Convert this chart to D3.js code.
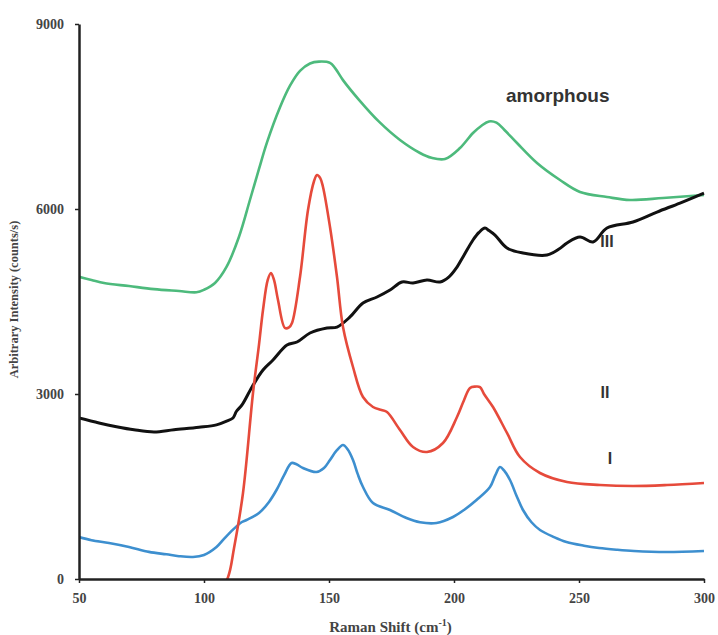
<!DOCTYPE html>
<html>
<head>
<meta charset="utf-8">
<script src="https://cdn.jsdelivr.net/npm/d3@7"></script>
<style>
  body { margin: 0; background: #fff; }
  .axis text { font: bold 14px "Liberation Serif", "DejaVu Serif", serif; fill: #444; }
  .axis path, .axis line { stroke: #222; }
</style>
</head>
<body>
<svg id="chart" width="718" height="635"></svg>
<script>
// raman shift (cm-1) and intensity (counts/s), one pair of arrays per trace
var shiftI = [50, 55, 62, 70, 78, 85, 90, 95.6, 100, 105, 108, 111.6, 115, 117, 122, 126, 129, 132, 135, 137, 139.6, 145, 148, 150.4, 153, 155.6, 157.5, 159.6, 161.5, 163.6, 167.6, 174.4, 181, 186.4, 193, 199.6, 204, 209, 214.4, 216.5, 218.4, 220, 222.4, 225, 227.6, 231, 234.4, 240, 245, 252, 258, 265, 272, 285, 300];
var countsI = [680, 630, 584, 520, 440, 400, 370, 357, 390, 519, 650, 800, 920, 957, 1070, 1250, 1443, 1680, 1881, 1860, 1800, 1735, 1800, 1930, 2080, 2173, 2100, 1930, 1700, 1492, 1232, 1119, 989, 920, 908, 1005, 1120, 1281, 1492, 1680, 1816, 1760, 1605, 1350, 1119, 920, 795, 680, 600, 540, 503, 475, 454, 438, 454];

var shiftII = [50, 54, 100, 106, 109.6, 112, 115.6, 119.6, 122, 123.6, 125.5, 126.8, 128, 129.6, 132.4, 134, 135.2, 138.4, 141.6, 144, 145.2, 146.5, 147.6, 150.4, 153.2, 155.6, 159.6, 163.6, 167.6, 171, 173.2, 178.4, 183.6, 189.2, 195.6, 201.2, 204, 206.4, 208.5, 210.4, 212, 215.6, 221.2, 226.4, 234.4, 245.2, 258.4, 271.6, 285.2, 300];
var countsII = [0, -400, -400, -200, 30, 500, 1395, 3016, 3800, 4362, 4850, 4962, 4850, 4524, 4070, 4080, 4151, 4897, 5984, 6450, 6551, 6500, 6357, 5708, 4897, 4086, 3438, 2951, 2789, 2740, 2708, 2416, 2141, 2059, 2205, 2627, 2900, 3097, 3120, 3113, 3000, 2789, 2368, 1978, 1719, 1573, 1524, 1508, 1524, 1557];

var shiftIII = [50, 58, 65, 72, 80, 88, 98, 105, 109, 111.6, 113, 115.2, 119.2, 123.6, 127.6, 133.2, 137.2, 142.4, 149.2, 153.2, 158.4, 163.6, 169.2, 174.4, 179.2, 183.6, 189.2, 194.4, 198, 201.2, 204, 207.6, 210, 212.4, 214, 216.4, 221.2, 227.6, 237.2, 242, 245.2, 250.4, 255.6, 261.2, 271.6, 281.2, 290.4, 300];
var countsIII = [2610, 2530, 2470, 2420, 2384, 2420, 2460, 2500, 2560, 2611, 2720, 2822, 3113, 3389, 3551, 3794, 3843, 3989, 4070, 4086, 4249, 4476, 4573, 4686, 4816, 4800, 4849, 4816, 4900, 5059, 5250, 5497, 5620, 5691, 5650, 5578, 5367, 5286, 5254, 5350, 5449, 5546, 5465, 5691, 5789, 5951, 6097, 6259];

var shiftAm = [50, 55, 60, 70, 80, 90, 97, 100, 104.4, 109, 114, 118.4, 122, 125.2, 130.4, 134.4, 138.4, 142.4, 146, 150.4, 152.5, 155.6, 162, 170, 178.4, 186.4, 191, 196.4, 202.4, 207.6, 211, 214, 217, 220, 225.2, 233.2, 242.4, 250.4, 261.2, 270.4, 283.6, 300];
var countsAm = [4900, 4850, 4800, 4750, 4700, 4670, 4650, 4690, 4800, 5060, 5550, 6150, 6650, 7080, 7650, 8000, 8240, 8360, 8390, 8370, 8280, 8090, 7770, 7416, 7119, 6908, 6830, 6811, 6989, 7232, 7350, 7420, 7400, 7290, 7070, 6746, 6470, 6276, 6195, 6146, 6178, 6227];

var xTicks = [50, 100, 150, 200, 250, 300];
var yTicks = [0, 3000, 6000, 9000];

var traces = [
    { id: "amorphous", xs: shiftAm, ys: countsAm, color: "#4dba7c" },
    { id: "III", xs: shiftIII, ys: countsIII, color: "#111111" },
    { id: "I", xs: shiftI, ys: countsI, color: "#3d8fcf" },
    { id: "II", xs: shiftII, ys: countsII, color: "#e64a3b" }
];

// labels put next to the traces, in data units
var labels = [
    { text: "amorphous", x: 220.8, y: 7850, size: 19 },
    { text: "III", x: 258.5, y: 5470, size: 16 },
    { text: "II", x: 258.6, y: 3030, size: 16 },
    { text: "I", x: 261.5, y: 1960, size: 16 }
];

var svg = d3.select("#chart"),
    margin = { top: 24, right: 14, bottom: 56, left: 79 },
    width = +svg.attr("width") - margin.left - margin.right,
    height = +svg.attr("height") - margin.top - margin.bottom;

var g = svg.append("g").attr("transform", "translate(" + margin.left + "," + margin.top + ")");

var xScale = d3.scaleLinear().domain([50, 300]).range([0, width]),
    yScale = d3.scaleLinear().domain([0, 9000]).range([height, 0]);

g.append("clipPath").attr("id", "plotclip")
    .append("rect").attr("x", 0).attr("y", -5).attr("width", width + 5).attr("height", height + 5);

var line = d3.line()
    .curve(d3.curveCatmullRom.alpha(0.5))
    .x(function(d) { return xScale(d[0]); })
    .y(function(d) { return yScale(d[1]); });

g.append("g").attr("clip-path", "url(#plotclip)")
    .selectAll("path")
    .data(traces)
    .enter().append("path")
    .attr("fill", "none")
    .attr("stroke", function(d) { return d.color; })
    .attr("stroke-width", function(d) { return d.id == "III" ? 3 : 2.6; })
    .attr("stroke-linejoin", "round")
    .attr("d", function(d) { return line(d.xs.map(function(x, i) { return [x, d.ys[i]]; })); });

// axes
g.append("g")
    .attr("class", "axis")
    .attr("transform", "translate(0," + height + ")")
    .call(d3.axisBottom(xScale).tickValues(xTicks).tickFormat(d3.format("d")).tickSizeInner(4).tickSizeOuter(0).tickPadding(10));

g.append("g")
    .attr("class", "axis")
    .call(d3.axisLeft(yScale).tickValues(yTicks).tickFormat(d3.format("d")).tickSizeInner(4).tickSizeOuter(0).tickPadding(11));

g.selectAll(".axis path.domain").attr("stroke-width", 2.5);
g.selectAll(".axis .tick line").attr("stroke-width", 1.5);

// axis titles
var xTitle = g.append("text")
    .attr("x", width / 2 - 1)
    .attr("y", height + 53)
    .attr("text-anchor", "middle")
    .style("font", "bold 15px 'Liberation Serif', serif")
    .attr("fill", "#444");
xTitle.append("tspan").text("Raman Shift (cm");
xTitle.append("tspan").attr("dy", "-6").style("font-size", "10px").text("-1");
xTitle.append("tspan").attr("dy", "6").text(")");

g.append("text")
    .attr("transform", "translate(" + (-61) + "," + (height / 2 - 2) + ") rotate(-90)")
    .attr("text-anchor", "middle")
    .style("font", "bold 12.5px 'Liberation Serif', serif")
    .attr("fill", "#444")
    .text("Arbitrary Intensity (counts/s)");

// trace labels
g.selectAll(".tlabel")
    .data(labels)
    .enter().append("text")
    .attr("class", "tlabel")
    .attr("x", function(d) { return xScale(d.x); })
    .attr("y", function(d) { return yScale(d.y); })
    .attr("dy", "0.35em")
    .style("font-family", "'Liberation Sans', Arial, sans-serif")
    .style("font-weight", "bold")
    .style("font-size", function(d) { return d.size + "px"; })
    .attr("fill", "#333")
    .text(function(d) { return d.text; });
</script>
</body>
</html>
